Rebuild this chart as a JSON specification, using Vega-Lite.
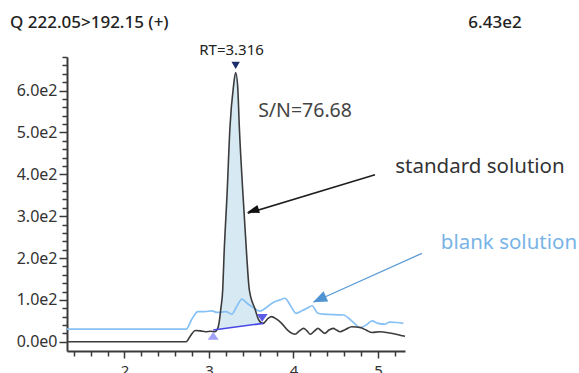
{
  "$schema": "https://vega.github.io/schema/vega-lite/v6.json",
  "width": 338,
  "height": 294,
  "autosize": {"type": "none"},
  "padding": {"left": 67, "top": 57, "right": 174, "bottom": 22},
  "background": "white",
  "config": {"view": {"stroke": null}, "font": "Noto Sans"},
  "datasets": {
    "standard": [
      {"t": 1.32, "v": 0}, {"t": 2.73, "v": 0}, {"t": 2.78, "v": 14}, {"t": 2.84, "v": 27},
      {"t": 2.9, "v": 26}, {"t": 2.96, "v": 24}, {"t": 3.02, "v": 25}, {"t": 3.07, "v": 24},
      {"t": 3.1, "v": 30}, {"t": 3.12, "v": 46}, {"t": 3.14, "v": 78}, {"t": 3.163, "v": 125},
      {"t": 3.178, "v": 205}, {"t": 3.215, "v": 356}, {"t": 3.249, "v": 514}, {"t": 3.29, "v": 610},
      {"t": 3.316, "v": 643}, {"t": 3.34, "v": 610}, {"t": 3.359, "v": 514}, {"t": 3.4, "v": 360},
      {"t": 3.447, "v": 205}, {"t": 3.477, "v": 125}, {"t": 3.545, "v": 78}, {"t": 3.59, "v": 52},
      {"t": 3.64, "v": 44}, {"t": 3.7, "v": 56}, {"t": 3.74, "v": 60}, {"t": 3.8, "v": 54},
      {"t": 3.86, "v": 44}, {"t": 3.93, "v": 28}, {"t": 4.02, "v": 18}, {"t": 4.07, "v": 26},
      {"t": 4.12, "v": 32}, {"t": 4.16, "v": 26}, {"t": 4.2, "v": 18}, {"t": 4.25, "v": 26},
      {"t": 4.29, "v": 32}, {"t": 4.33, "v": 26}, {"t": 4.37, "v": 20}, {"t": 4.42, "v": 28},
      {"t": 4.47, "v": 32}, {"t": 4.51, "v": 28}, {"t": 4.55, "v": 24}, {"t": 4.62, "v": 30},
      {"t": 4.69, "v": 36}, {"t": 4.79, "v": 34}, {"t": 4.86, "v": 28}, {"t": 4.93, "v": 22},
      {"t": 5.02, "v": 24}, {"t": 5.14, "v": 21}, {"t": 5.24, "v": 17}, {"t": 5.32, "v": 13}
    ],
    "blank": [
      {"t": 1.32, "v": 30}, {"t": 2.73, "v": 30}, {"t": 2.8, "v": 55}, {"t": 2.87, "v": 72},
      {"t": 2.95, "v": 72}, {"t": 3.03, "v": 74}, {"t": 3.1, "v": 70}, {"t": 3.2, "v": 72},
      {"t": 3.27, "v": 66}, {"t": 3.33, "v": 85}, {"t": 3.39, "v": 102}, {"t": 3.45, "v": 92},
      {"t": 3.51, "v": 84}, {"t": 3.6, "v": 73}, {"t": 3.68, "v": 82}, {"t": 3.76, "v": 94},
      {"t": 3.84, "v": 100}, {"t": 3.9, "v": 104}, {"t": 3.96, "v": 88}, {"t": 4.03, "v": 68},
      {"t": 4.1, "v": 74}, {"t": 4.16, "v": 80}, {"t": 4.22, "v": 86}, {"t": 4.29, "v": 68},
      {"t": 4.35, "v": 66}, {"t": 4.59, "v": 64}, {"t": 4.7, "v": 48}, {"t": 4.79, "v": 34},
      {"t": 4.86, "v": 40}, {"t": 4.93, "v": 50}, {"t": 5.0, "v": 44}, {"t": 5.08, "v": 42},
      {"t": 5.14, "v": 47}, {"t": 5.22, "v": 46}, {"t": 5.3, "v": 44}
    ],
    "peakfill": [
      {"t": 3.08, "v": 28, "base": 28.8}, {"t": 3.1, "v": 30, "base": 29.4}, {"t": 3.12, "v": 46, "base": 29.9},
      {"t": 3.14, "v": 78, "base": 30.4}, {"t": 3.163, "v": 125, "base": 31.1}, {"t": 3.178, "v": 205, "base": 31.5},
      {"t": 3.215, "v": 356, "base": 32.5}, {"t": 3.249, "v": 514, "base": 33.4}, {"t": 3.29, "v": 610, "base": 34.5},
      {"t": 3.316, "v": 643, "base": 35.2}, {"t": 3.34, "v": 610, "base": 35.9}, {"t": 3.359, "v": 514, "base": 36.4},
      {"t": 3.4, "v": 360, "base": 37.5}, {"t": 3.447, "v": 205, "base": 38.8}, {"t": 3.477, "v": 125, "base": 39.6},
      {"t": 3.545, "v": 78, "base": 41.4}, {"t": 3.59, "v": 52, "base": 42.6}, {"t": 3.64, "v": 44, "base": 44}
    ],
    "segments": [
      {"name": "baseline", "t": 3.05, "v": 28, "t2": 3.64, "v2": 44},
      {"name": "stdArrow", "t": 4.965, "v": 398.8, "t2": 3.46, "v2": 307},
      {"name": "blankArrow", "t": 5.521, "v": 211.2, "t2": 4.24, "v2": 95}
    ],
    "markers": [
      {"name": "apex", "t": 3.316, "v": 660},
      {"name": "start", "t": 3.05, "v": 14},
      {"name": "end", "t": 3.63, "v": 57},
      {"name": "stdHead", "t": 3.519, "v": 312.9},
      {"name": "blankHead", "t": 4.307, "v": 101.4}
    ],
    "notes": [
      {"name": "title", "label": "Q 222.05>192.15 (+)", "t": 0.645, "v": 762},
      {"name": "max", "label": "6.43e2", "t": 6.385, "v": 762},
      {"name": "rt", "label": "RT=3.316", "t": 3.267, "v": 696},
      {"name": "sn", "label": "S/N=76.68", "t": 4.137, "v": 551},
      {"name": "std", "label": "standard solution", "t": 6.207, "v": 418},
      {"name": "blank", "label": "blank solution", "t": 6.55, "v": 235}
    ]
  },
  "encoding": {
    "x": {
      "field": "t", "type": "quantitative",
      "scale": {"domain": [1.32, 5.32], "nice": false, "zero": false},
      "axis": {
        "title": null, "grid": false,
        "values": [1.4, 1.6, 1.8, 2.0, 2.2, 2.4, 2.6, 2.8, 3.0, 3.2, 3.4, 3.6, 3.8, 4.0, 4.2, 4.4, 4.6, 4.8, 5.0, 5.2],
        "labelExpr": "abs(datum.value - round(datum.value)) < 0.001 ? format(datum.value, 'd') : ''",
        "labelOverlap": false, "labelFlush": false,
        "tickSize": {"condition": {"test": "abs(datum.value - round(datum.value)) < 0.001", "value": 7}, "value": 5},
        "tickColor": "#3a3a3a", "tickWidth": 1.5,
        "domainColor": "#3a3a3a", "domainWidth": 2,
        "labelFont": "Noto Sans", "labelFontSize": 15, "labelColor": "#333333", "labelPadding": 5
      }
    },
    "y": {
      "field": "v", "type": "quantitative",
      "scale": {"domain": [-22, 680], "nice": false, "zero": false},
      "axis": {
        "title": null, "grid": false,
        "values": [0, 20, 40, 60, 80, 100, 120, 140, 160, 180, 200, 220, 240, 260, 280, 300, 320, 340, 360, 380, 400, 420, 440, 460, 480, 500, 520, 540, 560, 580, 600, 620, 640, 660, 680],
        "labelExpr": "datum.value % 100 === 0 ? replace(format(datum.value, '.1e'), '+', '') : ''",
        "labelOverlap": false, "labelFlush": false,
        "tickSize": {"condition": {"test": "datum.value % 100 === 0", "value": 8}, "value": 5},
        "tickColor": "#3a3a3a", "tickWidth": 1.5,
        "domainColor": "#3a3a3a", "domainWidth": 2,
        "labelFont": "Noto Sans", "labelFontSize": 16, "labelColor": "#333333", "labelPadding": 2
      }
    }
  },
  "layer": [
    {
      "data": {"name": "peakfill"},
      "mark": {"type": "area", "color": "#d3e8f3", "opacity": 0.9, "interpolate": "monotone"},
      "encoding": {"y2": {"field": "base"}}
    },
    {
      "data": {"name": "blank"},
      "mark": {"type": "line", "color": "#86c1f5", "strokeWidth": 1.7, "interpolate": "monotone"}
    },
    {
      "data": {"name": "standard"},
      "mark": {"type": "line", "color": "#3c3c3c", "strokeWidth": 1.6, "interpolate": "monotone"}
    },
    {
      "data": {"name": "segments"},
      "transform": [{"filter": "datum.name === 'baseline'"}],
      "mark": {"type": "rule", "color": "#4646e6", "strokeWidth": 1.6},
      "encoding": {"x2": {"field": "t2"}, "y2": {"field": "v2"}}
    },
    {
      "data": {"name": "segments"},
      "transform": [{"filter": "datum.name === 'stdArrow'"}],
      "mark": {"type": "rule", "color": "#1e1e1e", "strokeWidth": 1.5},
      "encoding": {"x2": {"field": "t2"}, "y2": {"field": "v2"}}
    },
    {
      "data": {"name": "segments"},
      "transform": [{"filter": "datum.name === 'blankArrow'"}],
      "mark": {"type": "rule", "color": "#5b9bd5", "strokeWidth": 1.3},
      "encoding": {"x2": {"field": "t2"}, "y2": {"field": "v2"}}
    },
    {
      "data": {"name": "markers"},
      "transform": [{"filter": "datum.name === 'apex'"}],
      "mark": {"type": "point", "shape": "triangle-down", "filled": true, "size": 70, "color": "#1c2d6e", "opacity": 1}
    },
    {
      "data": {"name": "markers"},
      "transform": [{"filter": "datum.name === 'start'"}],
      "mark": {"type": "point", "shape": "M-1,0.7L0,-0.7L1,0.7Z", "filled": true, "size": 120, "color": "#a2a2f7", "opacity": 1}
    },
    {
      "data": {"name": "markers"},
      "transform": [{"filter": "datum.name === 'end'"}],
      "mark": {"type": "point", "shape": "M-1,-0.7L0,0.7L1,-0.7Z", "filled": true, "size": 120, "color": "#5c5ce6", "opacity": 1}
    },
    {
      "data": {"name": "markers"},
      "transform": [{"filter": "datum.name === 'stdHead'"}],
      "mark": {"type": "point", "shape": "M-0.7,1L0,-1L0.7,1Z", "filled": true, "size": 150, "angle": 253.4, "color": "#111111", "opacity": 1}
    },
    {
      "data": {"name": "markers"},
      "transform": [{"filter": "datum.name === 'blankHead'"}],
      "mark": {"type": "point", "shape": "M-0.8,1L0,-1L0.8,1Z", "filled": true, "size": 200, "angle": 245.8, "color": "#4f93d2", "opacity": 1}
    },
    {
      "data": {"name": "notes"},
      "transform": [{"filter": "datum.name === 'title'"}],
      "mark": {"type": "text", "align": "left", "baseline": "middle", "font": "Noto Sans", "fontSize": 17, "fontWeight": 500, "color": "#222222"},
      "encoding": {"text": {"field": "label"}}
    },
    {
      "data": {"name": "notes"},
      "transform": [{"filter": "datum.name === 'max'"}],
      "mark": {"type": "text", "align": "center", "baseline": "middle", "font": "Noto Sans", "fontSize": 17, "fontWeight": 500, "color": "#222222"},
      "encoding": {"text": {"field": "label"}}
    },
    {
      "data": {"name": "notes"},
      "transform": [{"filter": "datum.name === 'rt'"}],
      "mark": {"type": "text", "align": "center", "baseline": "middle", "font": "Noto Sans", "fontSize": 15, "color": "#222222"},
      "encoding": {"text": {"field": "label"}}
    },
    {
      "data": {"name": "notes"},
      "transform": [{"filter": "datum.name === 'sn'"}],
      "mark": {"type": "text", "align": "center", "baseline": "middle", "font": "Noto Sans", "fontSize": 19.5, "color": "#444444"},
      "encoding": {"text": {"field": "label"}}
    },
    {
      "data": {"name": "notes"},
      "transform": [{"filter": "datum.name === 'std'"}],
      "mark": {"type": "text", "align": "center", "baseline": "middle", "font": "Noto Sans", "fontSize": 20.5, "color": "#333333"},
      "encoding": {"text": {"field": "label"}}
    },
    {
      "data": {"name": "notes"},
      "transform": [{"filter": "datum.name === 'blank'"}],
      "mark": {"type": "text", "align": "center", "baseline": "middle", "font": "Noto Sans", "fontSize": 20.5, "color": "#78b4e6"},
      "encoding": {"text": {"field": "label"}}
    }
  ]
}
